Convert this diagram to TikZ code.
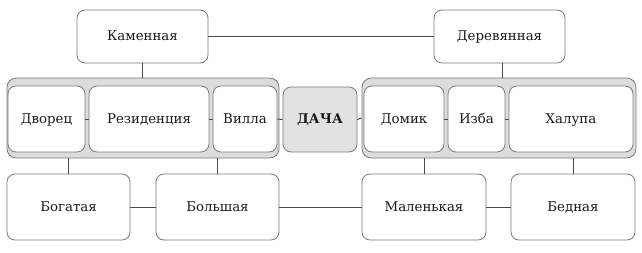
\documentclass[tikz,border=0pt]{standalone}
\usepackage{fontspec}
\setmainfont{DejaVu Serif}
\usetikzlibrary{positioning, calc}
\definecolor{bgGroup}{HTML}{DCDCDC}
\definecolor{bgCenter}{HTML}{E2E2E2}
\definecolor{borderBox}{HTML}{7A7A7A}
\definecolor{lineColor}{HTML}{4A4A4A}
\definecolor{textMain}{HTML}{1A1A1A}
\tikzset{
  wordbox/.style={
    draw=borderBox, fill=white, rounded corners=6pt,
    minimum height=49.5pt, inner sep=0pt, text height=1.6ex, text depth=0.4ex,
    font=\fontsize{10}{12}\selectfont, text=textMain, line width=0.6pt, align=center,
  },
  topbox/.style={
    wordbox, minimum width=98.25pt, minimum height=39.75pt,
  },
  groupbox/.style={
    draw=borderBox, fill=bgGroup, rounded corners=7pt,
    minimum height=60pt, inner sep=0pt, line width=0.6pt,
  },
  centerbox/.style={
    wordbox, fill=bgCenter, font=\fontsize{10}{12}\selectfont\bfseries,
  },
  link/.style={
    draw=lineColor, line width=0.75pt,
  },
}
\begin{document}
\begin{tikzpicture}[x=0.75pt, y=-0.75pt]
  \useasboundingbox (0,0) rectangle (642,253);

  % === Top row: material ===
  \node[topbox] (kam) at (142.5,36.5) {Каменная};
  \node[topbox] (der) at (499.5,36.5) {Деревянная};

  % === Middle row: groups and their words ===
  \node[groupbox, minimum width=204pt] (lgroup) at (143,118) {};
  \node[groupbox, minimum width=205.5pt] (rgroup) at (499,118) {};

  \node[wordbox, minimum width=57.75pt] (dvo) at (46.5,119) {Дворец};
  \node[wordbox, minimum width=90pt] (rez) at (149,119) {Резиденция};
  \node[wordbox, minimum width=48pt] (vil) at (245,119) {Вилла};
  \node[centerbox, minimum width=55.5pt, minimum height=48.75pt] (dacha) at (320,119.5) {ДАЧА};
  \node[wordbox, minimum width=60pt] (dom) at (404,119) {Домик};
  \node[wordbox, minimum width=42.75pt] (izb) at (476.5,119) {Изба};
  \node[wordbox, minimum width=93pt] (hal) at (571,119) {Халупа};

  % === Bottom row: size and wealth ===
  \node[wordbox, minimum width=92.25pt] (bog) at (68.5,207) {Богатая};
  \node[wordbox, minimum width=92.25pt] (bol) at (217.5,207) {Большая};
  \node[wordbox, minimum width=93pt] (mal) at (424,207) {Маленькая};
  \node[wordbox, minimum width=93pt] (bed) at (573,207) {Бедная};

  % === Links: top ===
  \draw[link] (kam) -- (der);
  \draw[link] (kam.south) -- (kam.south |- lgroup.north);
  \draw[link] ([xshift=1.9pt]der.south) -- ([xshift=1.9pt]der.south |- rgroup.north);

  % === Links: middle row ===
  \draw[link] (dvo) -- (rez);
  \draw[link] (rez) -- (vil);
  \draw[link] (vil.east) -- (dacha.west);
  \draw[link] (dacha.east) -- (rgroup.west);
  \draw[link] (dom) -- (izb);
  \draw[link] (izb) -- (hal);

  % === Links: bottom ===
  \draw[link] (bog.north) -- (bog.north |- lgroup.south);
  \draw[link] (bol.north) -- (bol.north |- lgroup.south);
  \draw[link] (mal.north) -- (mal.north |- rgroup.south);
  \draw[link] (bed.north) -- (bed.north |- rgroup.south);
  \draw[link] (bog) -- (bol);
  \draw[link] (bol) -- (mal);
  \draw[link] (mal) -- (bed);

\end{tikzpicture}
\end{document}
